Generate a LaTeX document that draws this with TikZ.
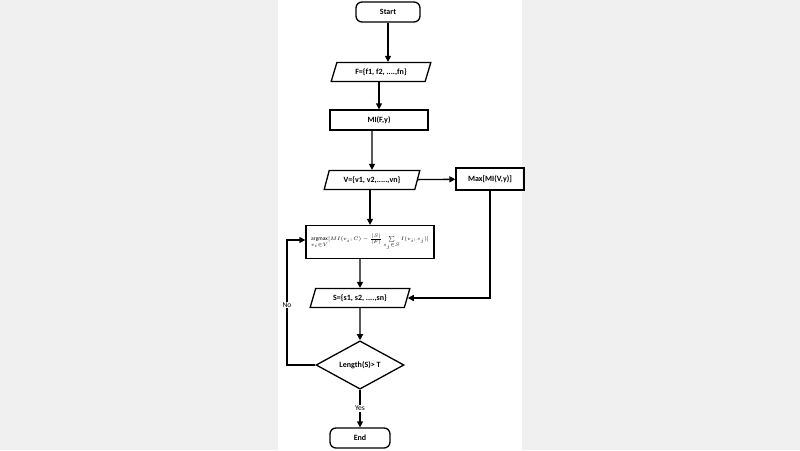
\documentclass[tikz,border=0pt]{standalone}
\usepackage{amsmath}
\usepackage{fontspec}
\setmainfont{Carlito}
\usetikzlibrary{shapes.geometric,arrows.meta}
\begin{document}
\begin{tikzpicture}[x=1pt,y=-1pt,
  base/.style={draw,line width=1.3pt,font=\bfseries\fontsize{8}{9}\selectfont,inner sep=2pt},
  term/.style={base,rounded corners=6pt,minimum width=64,minimum height=20},
  io/.style={base,trapezium,trapezium left angle=72,trapezium right angle=108,minimum height=19,trapezium stretches=true},
  proc/.style={base,rectangle,minimum height=20},
  dec/.style={base,diamond,inner sep=0pt,minimum width=88,minimum height=36},
  arr/.style={-{Triangle[length=6pt,width=6pt]},line width=1.3pt},
  lab/.style={font=\fontsize{7.5}{8}\selectfont}]
\useasboundingbox (0,0) rectangle (800,450);
\fill[gray!12] (0,0) rectangle (800,450);
\fill[white] (278,0) rectangle (522,450);
\node[term] (start) at (388,12) {Start};
\node[io,minimum width=100] (F) at (381,72) {F=\{f1, f2, ....,fn\}};
\node[proc,minimum width=98] (mi) at (379,120) {MI(F,y)};
\node[io,minimum width=96] (V) at (372,180) {V=\{v1, v2,.....,vn\}};
\node[proc,minimum width=68,minimum height=22] (max) at (490,179) {Max[MI(V,y)]};
\node[proc,minimum width=128,minimum height=33,font=\fontsize{5.5}{6}\selectfont] (arg) at (370,242)
  {$\underset{v_i\in V}{\mathrm{argmax}}[MI(v_i;C)-\frac{|S|}{|F|}\sum\limits_{s_j\in S} I(v_i;s_j)]$};
\node[io,minimum width=100] (S) at (360,298) {S=\{s1, s2, ....,sn\}};
\node[dec] (D) at (360,365) {Length(S)> T};
\node[term,minimum width=60] (end) at (360,438) {End};
\draw[arr] (start) -- (F.north -| start);
\draw[arr] (F.south -| mi) -- (mi);
\draw[arr] (mi.south -| V) -- (V);
\draw[arr] (V) -- (max);
\draw[arr] (V.south -| arg) -- (arg);
\draw[arr] (arg.south -| S) -- (S);
\draw[arr] (S) -- (D);
\draw[arr] (max.south) |- (S.east);
\draw[arr] (D.west) -| (287,240) -- (arg.west |- 0,240);
\draw[arr] (D) -- node[lab,fill=white,inner sep=1pt]{Yes} (end);
\node[lab] (no) at (287,305) [fill=white,inner sep=1pt] {No};
\end{tikzpicture}
\end{document}
